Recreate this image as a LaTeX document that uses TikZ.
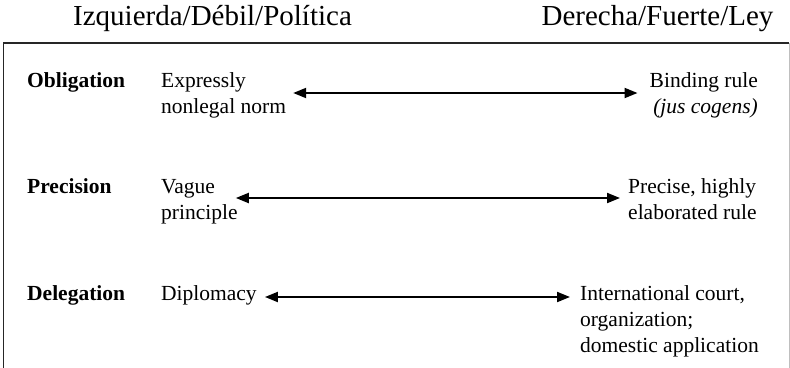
\documentclass[tikz,border=0pt]{standalone}
\usepackage{fontspec}
\setmainfont{Liberation Serif}
\usepackage{tikz}
\usetikzlibrary{arrows.meta,calc}
\tikzstyle{twoway}=[{Triangle[length=13pt,width=10pt]}-{Triangle[length=13pt,width=10pt]}, line width=2pt]
\tikzstyle{head}=[font=\fontsize{29}{34}\selectfont, inner sep=0pt, anchor=base]
\tikzstyle{rowname}=[font=\fontsize{21.5}{26}\selectfont\bfseries, inner sep=0pt, anchor=base west]
\tikzstyle{pole}=[font=\fontsize{21.5}{26}\selectfont, inner sep=0pt, align=left, anchor=base west]

\begin{document}
\begin{tikzpicture}[x=1pt,y=-1pt]
\useasboundingbox (0,0) rectangle (790,367);
\node[head] (izq) at (212.5,25) {Izquierda/Débil/Política};
\node[head] (der) at (657.5,25) {Derecha/Fuerte/Ley};
\draw[line width=1.4pt, black!85] (3.5,370) -- (3.5,43) -- (789,43);
\draw[line width=1pt, black!25] (789,43) -- (789,370);

% base of a two- or three-line node is its last line
\node[rowname] (obl) at (27,87) {Obligation};
\node[pole] (oblL) at (161,113) {Expressly\\nonlegal norm};
\node[pole, align=right, anchor=base east] (oblR) at (758,113) {Binding rule\\\textit{(jus cogens)}};
\draw[twoway] ($(oblL.east |- obl.base)+(7,6)$) -- ($(oblR.west |- obl.base)+(-12,6)$);

\node[rowname] (prc) at (27,193) {Precision};
\node[pole] (prcL) at (161,219) {Vague\\principle};
\node[pole] (prcR) at (628,219) {Precise, highly\\elaborated rule};
\draw[twoway] ($(prcL.east |- prc.base)+(-2,5)$) -- ($(prcR.west |- prc.base)+(-8,5)$);

\node[rowname] (del) at (27,300) {Delegation};
\node[pole] (delL) at (161,300) {Diplomacy};
\node[pole] (delR) at (580,352) {International court,\\organization;\\domestic application};
\draw[twoway] ($(delL.east |- del.base)+(8,-3)$) -- ($(delR.west |- del.base)+(-10,-3)$);
\end{tikzpicture}
\end{document}
